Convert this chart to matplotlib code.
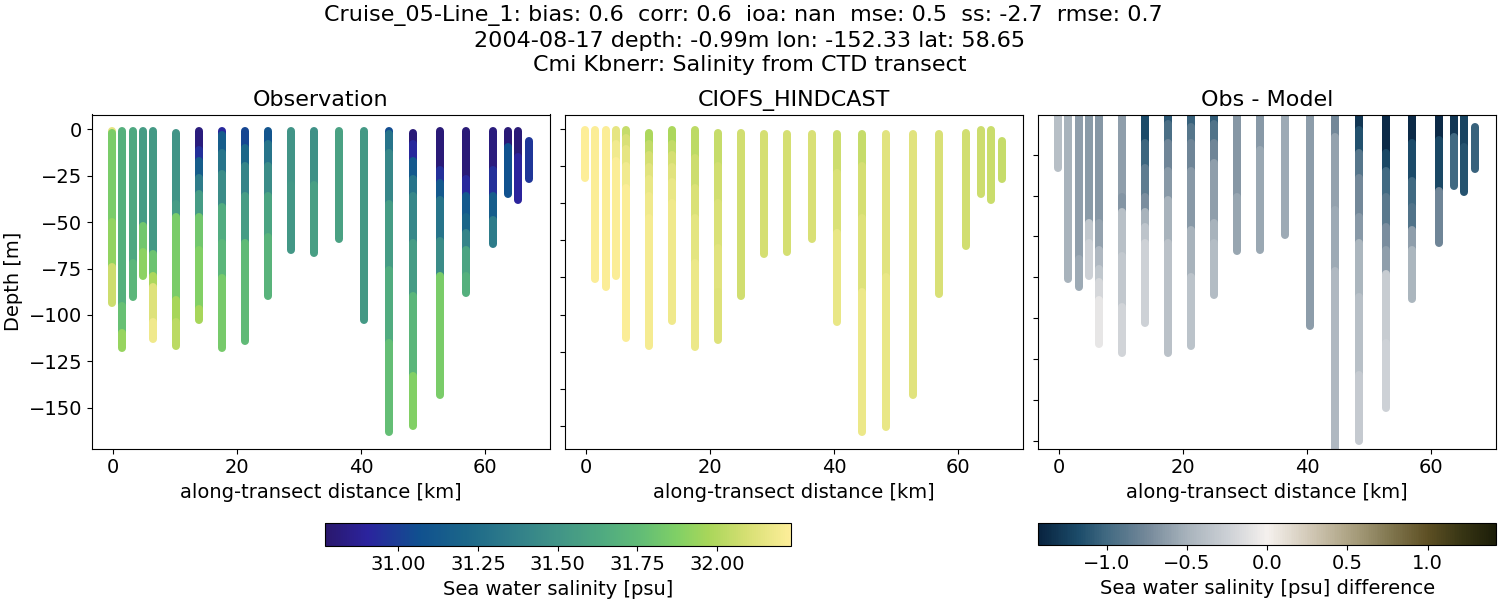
#!/usr/bin/env python3
"""CTD transect salinity: observation, model and difference panels"""

import matplotlib
matplotlib.use("Agg")
import matplotlib.pyplot as plt
from matplotlib.cm import ScalarMappable
from matplotlib.colors import LinearSegmentedColormap, Normalize

# along-transect distance of each cast [km]
distance = [-0.1, 1.5, 3.2, 4.8, 6.4, 10.2, 13.9, 17.6, 21.3, 25.0, 28.7,
            32.5, 36.5, 40.5, 44.5, 48.4, 52.7, 57.0, 61.3, 63.7, 65.4, 67.1]

# band edges down each cast [m], and salinity of each band
obs_depth = [
    [1, 2, 50, 74, 93.4], [1, 95, 110, 118], [1, 72, 90.3], [1, 52, 66, 78.9],
    [1, 67, 79, 85, 104, 113], [1.8, 40, 47, 92, 104, 116.7],
    [1, 11, 17, 26, 35, 47, 65, 97, 102.7], [1, 3, 13, 24, 42, 61, 80, 118],
    [1, 10, 20, 36, 61, 114], [1, 8, 20, 36, 58, 90], [1, 30, 65], [1, 30, 66.5],
    [1, 59], [1, 103], [1, 2.5, 13, 40, 76, 115, 163],
    [1.8, 8, 17, 27, 36, 61, 90, 133, 160], [1, 22, 29, 38, 60, 79, 143],
    [1, 27, 36, 47, 56, 65, 79, 88], [1, 22, 36, 49, 62], [1, 9.5, 35],
    [1, 15, 38], [6.5, 27],
]
obs_salt = [
    [32.15, 31.85, 31.92, 32.07], [31.68, 31.78, 31.93], [31.63, 31.72],
    [31.55, 31.82, 31.9], [31.53, 31.8, 31.98, 32.12, 32.18],
    [31.5, 31.55, 31.85, 31.97, 32.02],
    [30.82, 30.95, 31.15, 31.35, 31.55, 31.82, 31.88, 31.97],
    [30.92, 31.15, 31.3, 31.45, 31.65, 31.72, 31.84],
    [31.03, 31.22, 31.4, 31.55, 31.75], [31.1, 31.3, 31.45, 31.6, 31.7],
    [31.5, 31.52], [31.48, 31.57], [31.58], [31.53],
    [31.05, 31.3, 31.42, 31.55, 31.65, 31.77],
    [30.8, 30.92, 31.12, 31.3, 31.42, 31.55, 31.72, 31.88],
    [30.8, 30.95, 31.12, 31.3, 31.45, 31.85],
    [30.8, 30.92, 31.12, 31.2, 31.4, 31.6, 31.68],
    [30.82, 30.95, 31.15, 31.35], [30.8, 31.07], [30.8, 30.9], [30.97],
]

model_depth = [
    [1, 33.2], [1, 101], [1, 106.5], [1, 10, 22, 98.9], [1, 6, 14, 25, 40, 140.7],
    [2.7, 10, 18, 26, 34, 45, 60, 146], [1, 10, 18, 26, 36, 50, 129],
    [1, 20, 40, 60, 90, 147], [2.7, 25, 50, 80, 110, 142], [2.7, 112.6],
    [3.8, 84], [3.8, 82.8], [3.8, 74], [3.8, 30, 70, 129.8],
    [3.8, 25, 60, 110, 204], [3.8, 100, 200.5], [3.8, 179], [3.8, 111],
    [2.7, 79], [1, 44], [1, 48], [8.5, 34],
]
model_salt = [
    [32.23], [32.22], [32.22], [32.15, 32.19, 32.22], [32.05, 32.1, 32.15, 32.19, 32.22],
    [31.98, 32.04, 32.09, 32.13, 32.16, 32.18, 32.2],
    [31.98, 32.04, 32.09, 32.13, 32.16, 32.18],
    [32.03, 32.07, 32.11, 32.14, 32.17], [32.05, 32.08, 32.11, 32.13, 32.12],
    [32.08], [32.09], [32.09], [32.1], [32.07, 32.11, 32.16],
    [32.05, 32.09, 32.12, 32.17], [32.13, 32.16], [32.13], [32.1], [32.08],
    [32.07], [32.06], [32.05],
]

diff_depth = [
    [0, 33], [0, 101], [0, 89, 106], [0, 67, 79, 99], [0, 67, 83, 95, 103, 114, 141],
    [0, 51, 60, 87, 118, 146], [0, 18, 33, 51, 60, 69, 79, 128],
    [0, 6, 18, 35, 53, 79, 146], [0, 8, 18, 35, 71, 100, 142],
    [0, 6, 18, 30, 67, 79, 111], [0, 51, 84], [0, 22, 83], [0, 74], [0, 130],
    [0, 14, 59, 96, 210], [0, 10, 24, 39, 63, 79, 112, 160, 200],
    [0, 24, 35, 51, 69, 83, 98, 140, 180], [0, 18, 41, 57, 71, 83, 113],
    [0, 16, 47, 79], [0, 14, 44], [0, 20, 48], [8.3, 34],
]
diff_salt = [
    [-0.4], [-0.5], [-0.62, -0.55], [-0.64, -0.33, -0.24],
    [-0.66, -0.6, -0.45, -0.33, -0.2, -0.08], [-0.62, -0.68, -0.38, -0.32, -0.22],
    [-1.18, -1.02, -0.85, -0.72, -0.5, -0.35, -0.24],
    [-1.1, -0.95, -0.78, -0.65, -0.5, -0.37], [-1.05, -0.9, -0.78, -0.65, -0.5, -0.36],
    [-1.08, -0.92, -0.78, -0.62, -0.5, -0.42], [-0.66, -0.57], [-0.65, -0.56],
    [-0.55], [-0.63], [-0.75, -0.6, -0.55, -0.45],
    [-1.3, -1.15, -0.9, -0.75, -0.65, -0.48, -0.38, -0.3],
    [-1.38, -1.2, -1.0, -0.88, -0.72, -0.62, -0.28, -0.24],
    [-1.38, -1.18, -1.0, -0.92, -0.62, -0.47], [-1.38, -1.2, -0.78],
    [-1.3, -1.0], [-1.22, -1.13], [-1.05],
]

x_ticks = [0, 20, 40, 60]
y_ticks = [0, -25, -50, -75, -100, -125, -150, -175, -200]
salt_ticks = [31.00, 31.25, 31.50, 31.75, 32.00]
diff_ticks = [-1.0, -0.5, 0.0, 0.5, 1.0]

titles = ["Observation", "CIOFS_HINDCAST", "Obs - Model"]
suptitle = ("Cruise_05-Line_1: bias: 0.6  corr: 0.6  ioa: nan  mse: 0.5  ss: -2.7  rmse: 0.7  \n"
            "2004-08-17 depth: -0.99m lon: -152.33 lat: 58.65\n"
            "Cmi Kbnerr: Salinity from CTD transect")

# cmocean is not available, so haline and diff are approximated by hand
haline = LinearSegmentedColormap.from_list("haline", [
    (0.0, "#2A186C"), (0.09, "#2B239E"), (0.2, "#10508F"), (0.3, "#1B6689"),
    (0.4, "#2F7D8A"), (0.5, "#419487"), (0.6, "#50AB80"), (0.68, "#62BC76"),
    (0.755, "#7FD066"), (0.825, "#A8D65A"), (0.905, "#D5DF72"), (1.0, "#FDEE99")])
diff = LinearSegmentedColormap.from_list("diff", [
    (0.0, "#08233F"), (0.088, "#1C4C6A"), (0.15, "#426A82"), (0.238, "#75899A"),
    (0.325, "#A8B3BC"), (0.413, "#CCD0D5"), (0.5, "#F5F1EE"), (0.587, "#D4CBBA"),
    (0.675, "#AFA586"), (0.762, "#847A53"), (0.85, "#5E5024"), (0.92, "#3A3715"),
    (1.0, "#1B1D08")])
salt_norm = Normalize(30.77, 32.23)
diff_norm = Normalize(-1.43, 1.43)

W, H = 1500, 600
fig = plt.figure(figsize=(W / 100, H / 100), dpi=100)


def px_axes(left, top, right, bottom):
    return fig.add_axes([left / W, 1 - bottom / H, (right - left) / W, (bottom - top) / H])


def draw_casts(ax, depths, values, cmap, norm):
    for x, d, v in zip(distance, depths, values):
        for i, val in enumerate(v):
            ax.plot([x, x], [-d[i], -d[i + 1]], color=cmap(norm(val)), lw=5.76,
                    solid_capstyle='round')


ax1 = px_axes(92, 114.5, 550, 448.5)
ax2 = px_axes(565, 114.5, 1023, 448.5)
ax3 = px_axes(1038, 114.5, 1496, 448.5)

draw_casts(ax1, obs_depth, obs_salt, haline, salt_norm)
draw_casts(ax2, model_depth, model_salt, haline, salt_norm)
draw_casts(ax3, diff_depth, diff_salt, diff, diff_norm)

ax1.set_ylim(-172, 8)
ax2.set_ylim(-215, 9.5)
ax3.set_ylim(-204.7, -0.4)

for ax, title in zip([ax1, ax2, ax3], titles):
    ax.set_xlim(-3.39, 70.5)
    ax.set_xticks(x_ticks)
    ax.set_yticks([t for t in y_ticks if ax.get_ylim()[0] <= t <= ax.get_ylim()[1]])
    ax.tick_params(labelsize=14)
    ax.set_xlabel("along-transect distance [km]", fontsize=14)
    ax.set_title(title, fontsize=16)
ax1.set_ylabel("Depth [m]", fontsize=14)
ax2.tick_params(labelleft=False)
ax3.tick_params(labelleft=False)

cax1 = px_axes(325, 522.5, 790.5, 545.5)
cb1 = fig.colorbar(ScalarMappable(salt_norm, haline), cax=cax1, orientation='horizontal')
cb1.set_ticks(salt_ticks, labels=[f"{t:.2f}" for t in salt_ticks])
cb1.ax.tick_params(labelsize=14)
cb1.set_label("Sea water salinity [psu]", fontsize=14)

cax2 = px_axes(1038, 522.5, 1496.5, 544.5)
cb2 = fig.colorbar(ScalarMappable(diff_norm, diff), cax=cax2, orientation='horizontal')
cb2.set_ticks(diff_ticks)
cb2.ax.tick_params(labelsize=14)
cb2.set_label("Sea water salinity [psu] difference", fontsize=14)

fig.text(0.5, 0.992, suptitle, ha='center', va='top', fontsize=16, linespacing=1.3)

fig.savefig("out.png", dpi=100)
